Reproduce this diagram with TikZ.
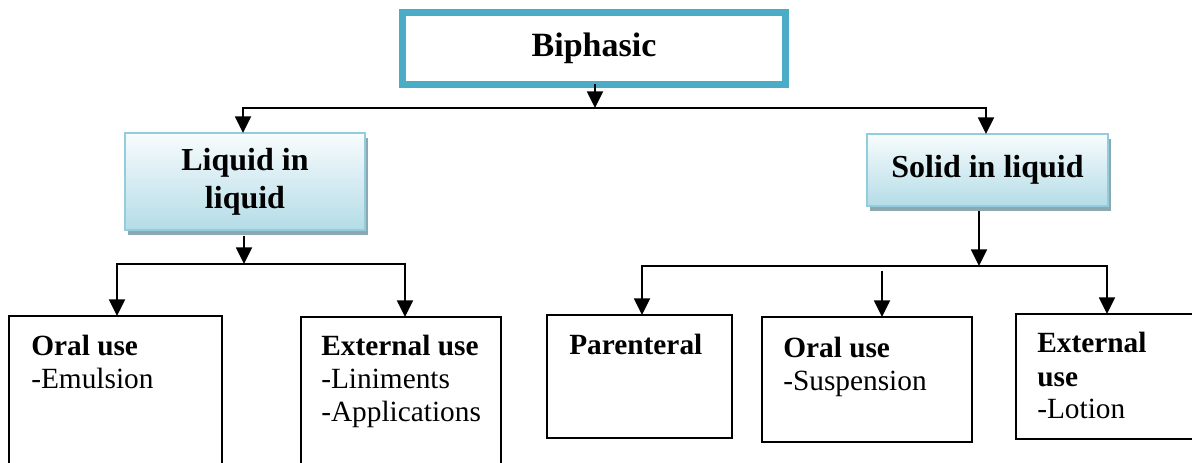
\documentclass[tikz,border=0pt]{standalone}
\usepackage{fontspec}
\setmainfont{Liberation Serif}
\usetikzlibrary{arrows.meta,shadows,calc}

\definecolor{topframe}{RGB}{75,172,198}
\definecolor{catframe}{RGB}{147,205,221}
\definecolor{cattop}{RGB}{248,252,253}
\definecolor{catbottom}{RGB}{180,220,231}
\definecolor{catshadow}{RGB}{140,168,176}

\begin{document}
\begin{tikzpicture}[x=0.75pt,y=-0.75pt,
  conn/.style={line width=1.4pt,-{Triangle[length=12.5pt,width=12pt]}},
  rootbox/.style={draw=topframe,line width=5.25pt,fill=white,inner sep=0pt,outer sep=0pt,
    font=\fontsize{25.5}{30}\selectfont\bfseries},
  catbox/.style={draw=catframe,line width=1.5pt,top color=cattop,bottom color=catbottom,
    inner sep=0pt,outer sep=0pt,align=center,
    font=\fontsize{24}{28.5}\selectfont\bfseries,
    drop shadow={shadow xshift=2.25pt,shadow yshift=-3.75pt,fill=catshadow,opacity=1}},
  leaf/.style={draw=black,line width=1pt,inner sep=0pt,outer sep=0pt,anchor=north west},
  txt/.style={anchor=base west,inner sep=0pt,font=\fontsize{22}{24}\selectfont},
  hd/.style={txt,font=\fontsize{22}{24}\selectfont\bfseries}]

\useasboundingbox (0,0) rectangle (1192,463);
\clip (0,0) rectangle (1192,463);

% root and the two categories
\node[rootbox,minimum width=287.25pt,minimum height=53.6pt] (bi) at (594,48.5) {Biphasic};
\node[catbox,minimum width=180pt,minimum height=72.75pt] (lq) at (245,181.5) {Liquid in\\liquid};
\node[catbox,minimum width=180.75pt,minimum height=54pt] (sl) at (987.5,170) {Solid in liquid};

% leaf boxes
\node[leaf,minimum width=159.75pt,minimum height=120pt] (o1) at (9,316) {};
\node[leaf,minimum width=150pt,minimum height=120pt] (e1) at (301,317) {};
\node[leaf,minimum width=138.75pt,minimum height=92.25pt] (p2) at (547,315) {};
\node[leaf,minimum width=157.5pt,minimum height=93.75pt] (o2) at (762,317) {};
\node[leaf,minimum width=140pt,minimum height=93.75pt] (e2) at (1016,314) {};

% leaf texts
\node[hd] (o1h) at (31,355) {Oral use};
\node[txt] (o1a) at (31,388) {-Emulsion};
\node[hd] (e1h) at (321,355) {External use};
\node[txt] (e1a) at (321,388) {-Liniments};
\node[txt] (e1b) at (321,421) {-Applications};
\node[hd] (p2h) at (569,354) {Parenteral};
\node[hd] (o2h) at (783,357) {Oral use};
\node[txt] (o2a) at (783,390) {-Suspension};
\node[hd] (e2h) at (1037,352) {External};
\node[hd] (e2u) at (1037,386) {use};
\node[txt] (e2a) at (1037,418) {-Lotion};

% junction points
\coordinate (j1) at (595,108);
\coordinate (j2) at (244,264);
\coordinate (j3) at (979,266);

% connectors from the root
\draw[conn] (bi.south -| j1) -- (j1);
\draw[conn] (j1) -| ($(lq.north)+(-2,0)$);
\draw[conn] (j1) -| ($(sl.north)+(-1.5,0)$);

% liquid in liquid branch
\draw[conn] (lq.south -| j2) ++(0,6) -- (j2);
\draw[conn] (j2) -| ($(o1.north west)+(108,0)$);
\draw[conn] (j2) -| ($(e1.north west)+(104,0)$);

% solid in liquid branch
\draw[conn] (sl.south -| j3) ++(0,5) -- (j3);
\draw[conn] (j3) -| ($(p2.north west)+(95,0)$);
\draw[conn] (j3) -| ($(e2.north west)+(91,0)$);
\draw[conn] ($(o2.north west)+(120,-46)$) -- ($(o2.north west)+(120,0)$);
\end{tikzpicture}
\end{document}
